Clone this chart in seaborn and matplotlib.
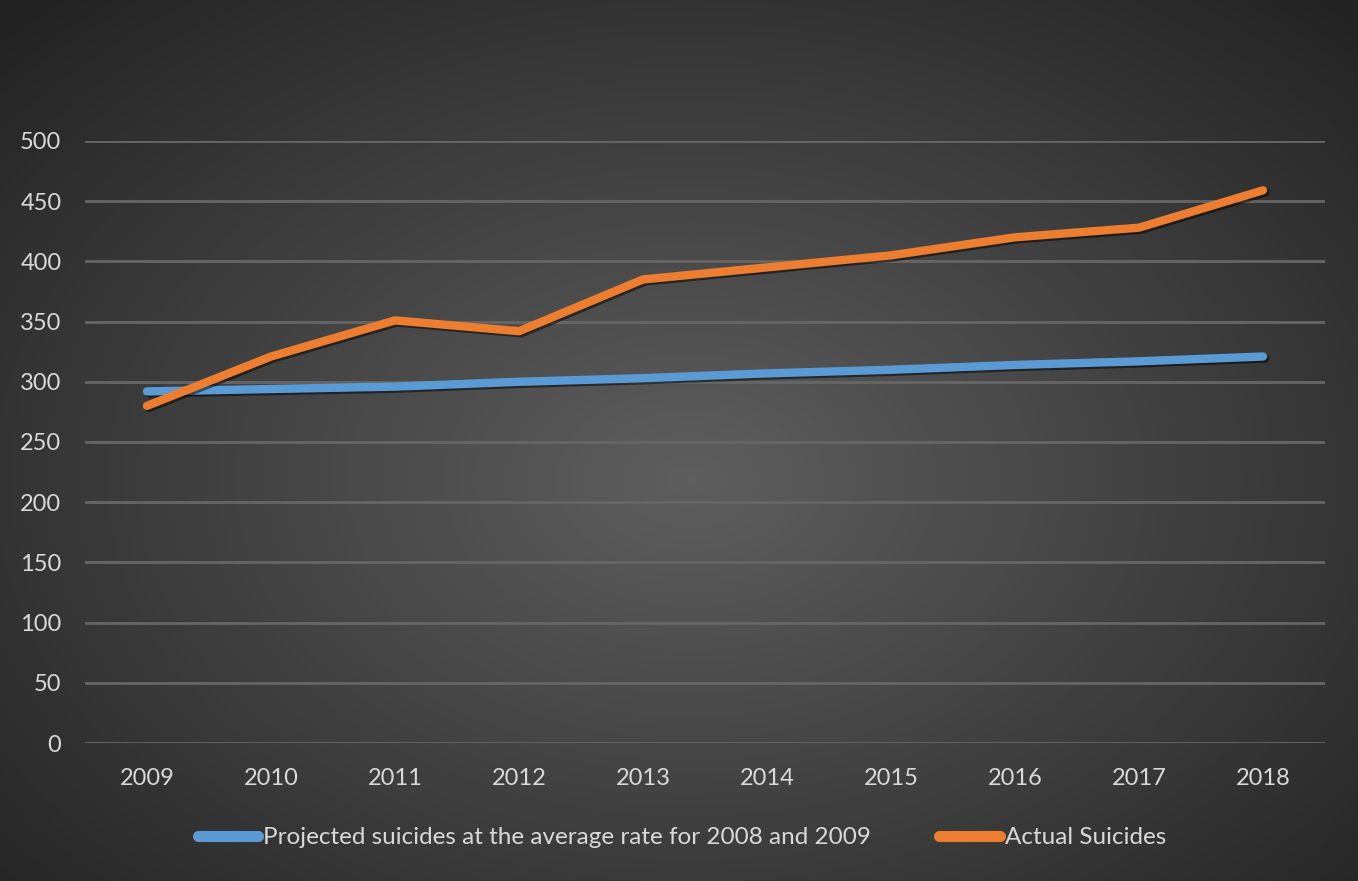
import numpy as np
import pandas as pd
import matplotlib
matplotlib.use("Agg")
import matplotlib.pyplot as plt
import matplotlib.patheffects as pe
from matplotlib.lines import Line2D
import seaborn as sns

years = [2009, 2010, 2011, 2012, 2013, 2014, 2015, 2016, 2017, 2018]
projected = [292, 294, 296, 300, 303, 307, 310, 314, 317, 321]
actual = [280, 321, 351, 342, 385, 395, 405, 420, 428, 459]
label_proj = "Projected suicides at the average rate for 2008 and 2009"
label_act = "Actual Suicides"
y_ticks = [0, 50, 100, 150, 200, 250, 300, 350, 400, 450, 500]

df = pd.DataFrame({
    "Year": years * 2,
    "Suicides": projected + actual,
    "Series": [label_proj] * len(years) + [label_act] * len(years),
})

sns.set_style("dark")
plt.rcParams["font.family"] = ["Lato", "DejaVu Sans"]

fig = plt.figure(figsize=(13.58, 8.81), dpi=100)

# radial gradient background
bg = fig.add_axes([0, 0, 1, 1], zorder=-10)
h, w = 881, 1358
yy, xx = np.mgrid[0:h, 0:w]
r = np.sqrt(((xx - 690) / 900.0) ** 2 + ((yy - 480) / 620.0) ** 2)
val = np.clip(0.37 - 0.22 * r, 0.14, 0.4)
bg.imshow(np.dstack([val, val, val]), aspect="auto", extent=[0, 1, 0, 1])
bg.axis("off")

ax = fig.add_axes([0.0626, 0.1566, 0.9131, 0.6834])
ax.patch.set_alpha(0)

sns.lineplot(data=df, x="Year", y="Suicides", hue="Series",
             palette={label_proj: "#5B9BD5", label_act: "#ED7D31"},
             linewidth=6, ax=ax, legend=False, zorder=5)
for line in ax.lines:
    line.set_solid_capstyle("round")
    line.set_path_effects([pe.SimpleLineShadow(offset=(1.5, -1.5), shadow_color="black", alpha=0.5),
                           pe.Normal()])

ax.set_ylim(0, 500)
ax.set_xlim(2008.5, 2018.5)
ax.set_yticks(y_ticks)
ax.set_xticks(years)
ax.set_xticklabels([str(y) for y in years])
ax.grid(axis="y", color="#666666", linewidth=2)
ax.grid(axis="x", visible=False)
for s in ax.spines.values():
    s.set_visible(False)
ax.tick_params(colors="#d9d9d9", labelsize=17, length=0)
ax.tick_params(axis="y", pad=17)
ax.tick_params(axis="x", pad=18)
ax.set_xlabel("")
ax.set_ylabel("")

handles = [Line2D([], [], color="#5B9BD5", linewidth=8, solid_capstyle="round"),
           Line2D([], [], color="#ED7D31", linewidth=8, solid_capstyle="round")]
leg = fig.legend(handles, [label_proj, label_act], loc="center", bbox_to_anchor=(0.502, 0.049),
                 ncol=2, frameon=False, fontsize=17.5, labelcolor="#d9d9d9",
                 handlelength=2.5, handletextpad=0.2, columnspacing=2.8)

fig.savefig("out.png", dpi=100)
